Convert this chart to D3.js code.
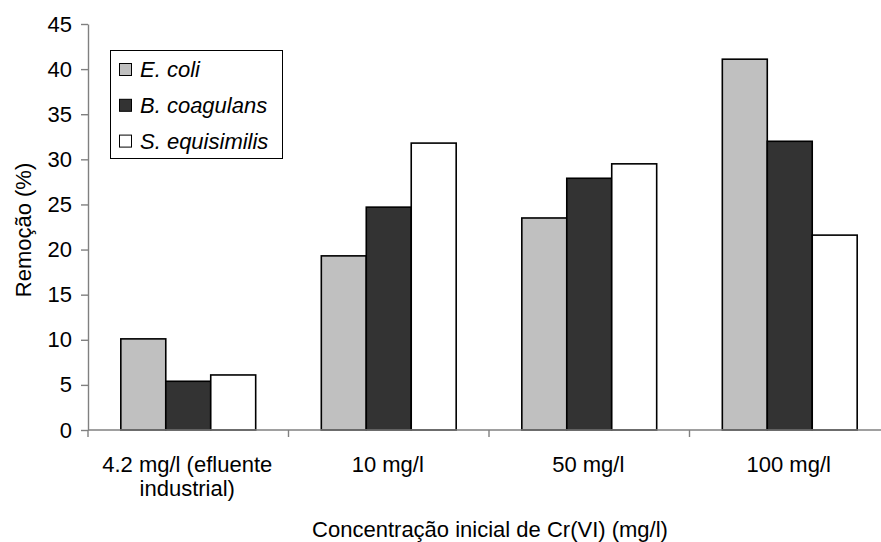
<!DOCTYPE html>
<html>
<head>
<meta charset="utf-8">
<script src="https://cdn.jsdelivr.net/npm/d3@7"></script>
<style>
  html, body { margin: 0; padding: 0; background: #fff; }
  svg { display: block; font-family: "Liberation Sans", Arial, sans-serif; }
</style>
</head>
<body>
<svg id="chart" width="881" height="542"></svg>
<script>
// Concentrations tested (category labels, second line after "|")
const categories = ["4.2 mg/l (efluente|industrial)", "10 mg/l", "50 mg/l", "100 mg/l"];
const seriesNames = ["E. coli", "B. coagulans", "S. equisimilis"];
const seriesColors = ["#c0c0c0", "#333333", "#ffffff"];
// Removal (%) per organism, one value per concentration
const eColi = [10.1, 19.3, 23.5, 41.1];
const bCoagulans = [5.4, 24.7, 27.9, 32.0];
const sEquisimilis = [6.1, 31.8, 29.5, 21.6];
const yTicks = [0, 5, 10, 15, 20, 25, 30, 35, 40, 45];

const series = [eColi, bCoagulans, sEquisimilis];
const FONT = 22;

const svg = d3.select("#chart");
const plotLeft = 88, plotRight = 890, plotTop = 24, plotBottom = 430;

const x = d3.scaleBand().domain(categories).range([plotLeft, plotRight]).paddingInner(0).paddingOuter(0);
const xInner = d3.scaleBand().domain(seriesNames).range([0, x.bandwidth()]).paddingInner(0).paddingOuter(0.73);
const y = d3.scaleLinear().domain([0, 45]).range([plotBottom, plotTop]);

// Bars
categories.forEach((c, ci) => {
  const g = svg.append("g").attr("transform", `translate(${x(c)},0)`);
  seriesNames.forEach((s, si) => {
    const v = series[si][ci];
    g.append("rect")
      .attr("x", xInner(s))
      .attr("y", y(v))
      .attr("width", xInner.bandwidth())
      .attr("height", y(0) - y(v))
      .attr("fill", seriesColors[si])
      .attr("stroke", "#000")
      .attr("stroke-width", 1.6);
  });
});

// Y axis
const yAxis = svg.append("g")
  .attr("transform", `translate(${plotLeft},0)`)
  .call(d3.axisLeft(y).tickValues(yTicks).tickSize(7).tickSizeOuter(0).tickPadding(9).tickFormat(d3.format("d")));
yAxis.select(".domain").attr("stroke", "#808080").attr("stroke-width", 1.4);
yAxis.selectAll(".tick line").attr("stroke", "#808080").attr("stroke-width", 1.4);
yAxis.selectAll("text").attr("font-size", FONT).attr("fill", "#000")
  .attr("font-family", "Liberation Sans, Arial, sans-serif");

// X axis line with ticks at band boundaries
const xLine = svg.append("g");
xLine.append("line")
  .attr("x1", plotLeft).attr("x2", 881).attr("y1", plotBottom).attr("y2", plotBottom)
  .attr("stroke", "#808080").attr("stroke-width", 1.4);
xLine.selectAll("line.tick")
  .data(categories)
  .join("line")
  .attr("class", "tick")
  .attr("x1", d => x(d)).attr("x2", d => x(d))
  .attr("y1", plotBottom).attr("y2", plotBottom + 7)
  .attr("stroke", "#808080").attr("stroke-width", 1.4);

// X tick labels
categories.forEach(c => {
  const lines = c.split("|");
  const cx = x(c) + x.bandwidth() / 2 - 1;
  const t = svg.append("text")
    .attr("x", cx)
    .attr("y", 472)
    .attr("text-anchor", "middle")
    .attr("font-size", FONT)
    .attr("fill", "#000");
  lines.forEach((l, i) => {
    t.append("tspan").attr("x", cx).attr("dy", i === 0 ? 0 : 24).text(l);
  });
});

// Axis titles
svg.append("text")
  .attr("x", 490).attr("y", 537)
  .attr("text-anchor", "middle").attr("font-size", FONT).attr("fill", "#000")
  .text("Concentração inicial de Cr(VI) (mg/l)");
svg.append("text")
  .attr("transform", "translate(31,230) rotate(-90)")
  .attr("text-anchor", "middle").attr("font-size", FONT).attr("fill", "#000")
  .text("Remoção (%)");

// Legend
const legend = svg.append("g");
legend.append("rect")
  .attr("x", 110.5).attr("y", 50.5).attr("width", 172).attr("height", 108)
  .attr("fill", "#fff").attr("stroke", "#000").attr("stroke-width", 1);
seriesNames.forEach((s, i) => {
  const base = 77 + i * 35.8;
  legend.append("rect")
    .attr("x", 119.5).attr("y", base - 13.5).attr("width", 12).attr("height", 12)
    .attr("fill", seriesColors[i]).attr("stroke", "#000").attr("stroke-width", 1);
  legend.append("text")
    .attr("x", 140).attr("y", base)
    .attr("font-size", FONT).attr("font-style", "italic").attr("fill", "#000")
    .text(s);
});
</script>
</body>
</html>
